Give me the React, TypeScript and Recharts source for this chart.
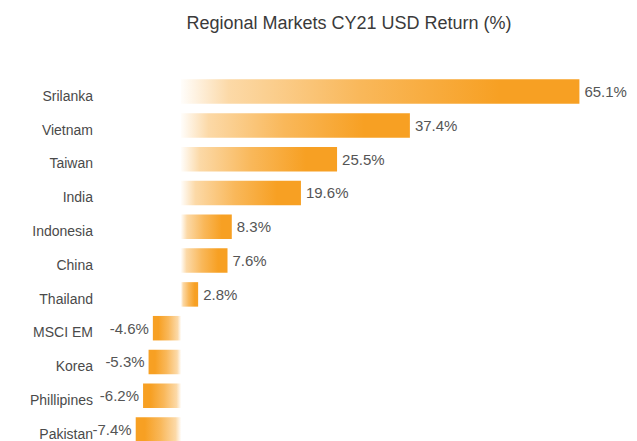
import React from "react";
import { BarChart, Bar, XAxis, YAxis, Cell, LabelList } from "recharts";

const markets = ["Srilanka", "Vietnam", "Taiwan", "India", "Indonesia", "China", "Thailand", "MSCI EM", "Korea", "Phillipines", "Pakistan"];
const returns = [65.1, 37.4, 25.5, 19.6, 8.3, 7.6, 2.8, -4.6, -5.3, -6.2, -7.4];

const ORANGE = "#F7A023";

const data = markets.map((name, i) => ({ name, value: returns[i] }));

// category labels sit a little below the bar centre in the original
const MarketTick = (props: any) => {
  const { x, y, payload } = props;
  return (
    <text x={x} y={y + 4.5} dy="0.355em" textAnchor="end" fill="#4a4a4a" fontSize={14}>
      {payload.value}
    </text>
  );
};

const ValueLabel = (props: any) => {
  const { x, y, width, height, value } = props;
  const left = Math.min(x, x + width);
  const right = Math.max(x, x + width);
  const neg = value < 0;
  return (
    <text
      x={neg ? left - 4 : right + 5}
      y={y + height / 2}
      dy="0.355em"
      textAnchor={neg ? "end" : "start"}
      fill="#555"
      fontSize={15}
    >
      {`${value.toFixed(1)}%`}
    </text>
  );
};

export default function App() {
  return (
    <div
      style={{
        position: "relative",
        width: 629,
        height: 433,
        overflow: "hidden",
        fontFamily: "'Liberation Sans', Arial, sans-serif",
      }}
    >
      <div
        style={{
          position: "absolute",
          left: 0,
          top: 5,
          width: 682,
          textAlign: "center",
          fontSize: 18,
          lineHeight: "20px",
          color: "#3a3a3a",
        }}
      >
        Regional Markets CY21 USD Return (%)
      </div>
      <BarChart
        width={629}
        height={445}
        data={data}
        layout="vertical"
        margin={{ top: 66.35, right: 27.6, bottom: 6.85, left: 11.8 }}
      >
        <defs>
          <linearGradient id="posFill" x1="0" y1="0" x2="1" y2="0">
            <stop offset="0%" stopColor={ORANGE} stopOpacity={0.02} />
            <stop offset="12%" stopColor={ORANGE} stopOpacity={0.4} />
            <stop offset="45%" stopColor={ORANGE} stopOpacity={0.75} />
            <stop offset="80%" stopColor={ORANGE} stopOpacity={1} />
            <stop offset="100%" stopColor={ORANGE} stopOpacity={1} />
          </linearGradient>
          <linearGradient id="negFill" x1="0" y1="0" x2="1" y2="0">
            <stop offset="0%" stopColor={ORANGE} stopOpacity={1} />
            <stop offset="20%" stopColor={ORANGE} stopOpacity={1} />
            <stop offset="55%" stopColor={ORANGE} stopOpacity={0.75} />
            <stop offset="88%" stopColor={ORANGE} stopOpacity={0.4} />
            <stop offset="100%" stopColor={ORANGE} stopOpacity={0.02} />
          </linearGradient>
        </defs>
        <XAxis type="number" domain={[-10, 70]} hide />
        <YAxis
          type="category"
          dataKey="name"
          width={100}
          axisLine={false}
          tickLine={false}
          tickSize={0}
          tickMargin={26.8}
          interval={0}
          tick={<MarketTick />}
        />
        <Bar dataKey="value" barSize={24.5} isAnimationActive={false}>
          {data.map((d, i) => (
            <Cell key={`c-${i}`} fill={d.value < 0 ? "url(#negFill)" : "url(#posFill)"} />
          ))}
          <LabelList dataKey="value" content={<ValueLabel />} />
        </Bar>
      </BarChart>
    </div>
  );
}
